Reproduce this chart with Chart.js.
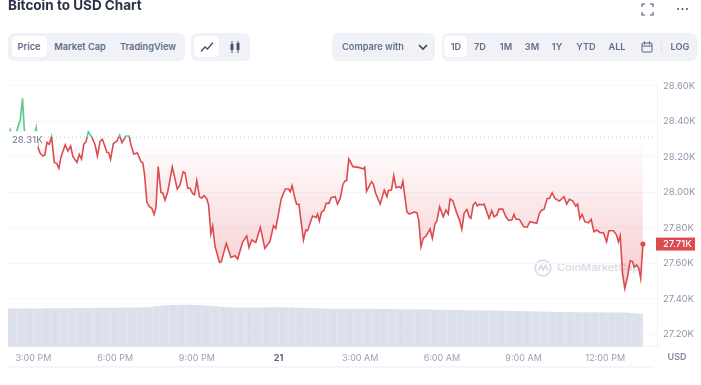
<!DOCTYPE html>
<html>
<head>
<meta charset="utf-8">
<title>Bitcoin to USD Chart</title>
<script src="https://cdn.jsdelivr.net/npm/chart.js@4"></script>
<style>
    html, body { margin: 0; padding: 0; background: #fff; overflow: hidden; }
    body { width: 701px; height: 385px; position: relative; font-family: Inter, sans-serif; }
    #chartBox { position: absolute; left: 0; top: 0; width: 701px; height: 385px; }
    .title { position: absolute; left: 8px; top: -3px; font-size: 13.5px; font-weight: 700; line-height: 17px; color: #2b3245; white-space: nowrap; }
    .group { position: absolute; top: 33px; height: 28px; background: #f0f2f7; border-radius: 6px; }
    .active { position: absolute; top: 36px; height: 21px; background: #fff; border-radius: 5px; }
    .btn { position: absolute; top: 47px; transform: translate(-50%, -50%); font-size: 9.2px; font-weight: 600; color: #626e86; white-space: nowrap; line-height: 12px; }
    svg.icon { position: absolute; }
    .mark { position: absolute; left: 557px; top: 259px; font-size: 11px; font-weight: 500; color: #d7dbe7; white-space: nowrap; line-height: 16px; }
    .usd { position: absolute; left: 677px; top: 357px; transform: translate(-50%, -50%); font-size: 9px; font-weight: 600; color: #7f879b; line-height: 12px; }
    .band { position: absolute; left: 9px; top: 366px; width: 645px; height: 2px; background: #f3f6fd; }
</style>
</head>
<body>
<svg class="icon" style="left:534px;top:259px" width="18" height="18" viewBox="0 0 18 18" fill="none" stroke="#d7dbe7" stroke-width="1.7">
    <circle cx="9" cy="9" r="7.8"/><path d="M4.5 11.5 7 6.5l2.2 4.5L11.5 6.5l2.3 5"/>
</svg>
<div class="mark">CoinMarketCap</div>

<div id="chartBox"><canvas id="btcChart" width="701" height="385"></canvas></div>

<div class="title">Bitcoin to USD Chart</div>

<svg class="icon" style="left:641px;top:3px" width="13" height="13" viewBox="0 0 13 13" fill="none" stroke="#4a5468" stroke-width="1.1">
    <path d="M1 4V1h3M9 1h3v3M12 9v3H9M4 12H1V9"/>
</svg>
<svg class="icon" style="left:676px;top:7px" width="13" height="4" viewBox="0 0 13 4" fill="#4a5468">
    <circle cx="2" cy="2" r="1"/><circle cx="6.5" cy="2" r="1"/><circle cx="11" cy="2" r="1"/>
</svg>

<div class="group" style="left:8px;width:177px"></div>
<div class="active" style="left:12px;width:35px"></div>
<div class="btn" style="left:29px">Price</div>
<div class="btn" style="left:80px">Market Cap</div>
<div class="btn" style="left:148px">TradingView</div>

<div class="group" style="left:191px;width:59px"></div>
<div class="active" style="left:194px;width:25px"></div>
<svg class="icon" style="left:200px;top:41px" width="14" height="12" viewBox="0 0 14 12" fill="none" stroke="#4a5468" stroke-width="1.3">
    <path d="M1 10.5 5 6l2.5 2L13 1.5"/>
</svg>
<svg class="icon" style="left:229px;top:41px" width="12" height="12" viewBox="0 0 12 12" fill="#4a5468" stroke="#4a5468">
    <path d="M3 0v12M9 0v12" stroke-width="1"/><rect x="1.5" y="3" width="3" height="6" stroke="none"/><rect x="7.5" y="2" width="3" height="7" stroke="none"/>
</svg>

<div class="group" style="left:332px;width:103px"></div>
<div class="btn" style="left:373px">Compare with</div>
<svg class="icon" style="left:418px;top:44px" width="10" height="7" viewBox="0 0 10 7" fill="none" stroke="#3b4558" stroke-width="1.6">
    <path d="M1 1l4 4 4-4"/>
</svg>

<div class="group" style="left:442px;width:255px"></div>
<div class="active" style="left:444px;width:23px"></div>
<div class="btn" style="left:456px">1D</div>
<div class="btn" style="left:480px">7D</div>
<div class="btn" style="left:506px">1M</div>
<div class="btn" style="left:532px">3M</div>
<div class="btn" style="left:557px">1Y</div>
<div class="btn" style="left:586px">YTD</div>
<div class="btn" style="left:617px">ALL</div>
<svg class="icon" style="left:641px;top:41px" width="12" height="12" viewBox="0 0 12 12" fill="none" stroke="#5a657b" stroke-width="1">
    <rect x="1" y="2" width="10" height="9" rx="1"/><path d="M1 5h10M3.5 0.5v3M8.5 0.5v3"/>
</svg>
<div style="position:absolute;left:661px;top:42px;width:1px;height:10px;background:#dfe2ea"></div>
<div class="btn" style="left:680px">LOG</div>

<div class="usd">USD</div>
<div class="band"></div>

<script>
// 시간축: 전날 00:00 기준 분 단위
const xTicks = [900, 1080, 1260, 1440, 1620, 1800, 1980, 2160];
const xLabels = ['3:00 PM', '6:00 PM', '9:00 PM', '21', '3:00 AM', '6:00 AM', '9:00 AM', '12:00 PM'];

const yTicks = [27200, 27400, 27600, 27800, 28000, 28200, 28400, 28600];
const yLabels = ['27.20K', '27.40K', '27.60K', '27.80K', '28.00K', '28.20K', '28.40K', '28.60K'];

const basePrice = 28310;
const baseLabel = '28.31K';
const lastLabel = '27.71K';

const priceTimes = [
    846, 849, 853, 859, 865, 871, 876, 880, 885, 896, 902, 906, 910, 915, 921, 925, 930, 935, 940, 946,
    951, 956, 961, 970, 976, 982, 987, 996, 1001, 1006, 1011, 1016, 1021, 1029, 1036, 1041, 1047, 1052, 1062, 1066,
    1070, 1076, 1084, 1090, 1095, 1104, 1111, 1115, 1121, 1129, 1137, 1141, 1145, 1150, 1156, 1161, 1166, 1170, 1175, 1181,
    1185, 1190, 1196, 1206, 1217, 1223, 1230, 1234, 1240, 1245, 1251, 1255, 1260, 1266, 1271, 1276, 1282, 1286, 1291, 1295,
    1300, 1310, 1314, 1325, 1335, 1344, 1350, 1361, 1370, 1375, 1381, 1390, 1400, 1410, 1421, 1429, 1434, 1446, 1455, 1462,
    1466, 1470, 1477, 1480, 1485, 1495, 1500, 1504, 1515, 1523, 1526, 1530, 1535, 1540, 1545, 1551, 1556, 1565, 1570, 1576,
    1582, 1587, 1590, 1595, 1604, 1616, 1627, 1630, 1634, 1645, 1649, 1654, 1664, 1673, 1679, 1682, 1689, 1694, 1699, 1706,
    1710, 1714, 1723, 1728, 1739, 1745, 1749, 1754, 1759, 1765, 1774, 1779, 1785, 1789, 1795, 1803, 1809, 1814, 1818, 1824,
    1833, 1839, 1844, 1849, 1855, 1861, 1864, 1869, 1874, 1878, 1883, 1888, 1893, 1904, 1910, 1915, 1921, 1926, 1934, 1941,
    1947, 1954, 1959, 1963, 1971, 1980, 1988, 1994, 2009, 2015, 2020, 2025, 2032, 2037, 2043, 2049, 2059, 2069, 2075, 2081,
    2088, 2095, 2099, 2104, 2109, 2115, 2123, 2129, 2135, 2141, 2149, 2156, 2163, 2168, 2178, 2185, 2189, 2193, 2198, 2203,
    2209, 2215, 2220, 2224, 2229, 2234, 2238, 2243
];

const prices = [
    28322, 28352, 28322, 28303, 28360, 28407, 28529, 28350, 28303, 28294, 28322, 28364, 28253, 28219, 28204, 28210, 28281, 28270, 28313, 28168,
    28163, 28134, 28200, 28266, 28232, 28260, 28200, 28168, 28213, 28187, 28270, 28285, 28341, 28309, 28266, 28204, 28288, 28298, 28225, 28223,
    28185, 28273, 28288, 28322, 28279, 28317, 28317, 28266, 28215, 28221, 28172, 28166, 28097, 27943, 27917, 27909, 27875, 27913, 28144, 27999,
    27996, 27956, 28003, 28142, 28018, 28041, 28116, 28110, 28022, 28022, 27992, 27986, 28065, 27973, 27967, 27981, 27962, 27928, 27765, 27811,
    27697, 27605, 27609, 27712, 27633, 27642, 27624, 27719, 27753, 27689, 27731, 27717, 27802, 27684, 27721, 27811, 27796, 27962, 28018, 28018,
    28003, 28037, 27956, 27933, 27932, 27731, 27787, 27783, 27866, 27858, 27877, 27838, 27890, 27896, 27937, 27937, 27969, 27975, 27933, 27965,
    28044, 28065, 28065, 28187, 28144, 28140, 28132, 28140, 28005, 28059, 28046, 27994, 27933, 28012, 27975, 28009, 28014, 28093, 28025, 28031,
    28022, 28061, 27890, 27877, 27888, 27885, 27843, 27693, 27740, 27753, 27793, 27740, 27824, 27838, 27918, 27862, 27900, 27877, 27962, 27952,
    27881, 27843, 27791, 27881, 27903, 27858, 27853, 27928, 27943, 27922, 27933, 27928, 27933, 27853, 27896, 27862, 27871, 27905, 27905, 27862,
    27841, 27843, 27875, 27849, 27847, 27806, 27804, 27834, 27825, 27881, 27900, 27903, 27965, 27965, 27997, 27965, 27950, 27975, 27933, 27960,
    27952, 27922, 27933, 27851, 27875, 27834, 27828, 27847, 27778, 27787, 27772, 27772, 27721, 27783, 27783, 27759, 27721, 27755, 27543, 27458,
    27524, 27614, 27609, 27577, 27590, 27571, 27515, 27708
];

// 거래량 (5분 간격, 단위: 십억)
const volumeStart = 845;
const volumes = [
    15.10, 15.10, 15.11, 15.12, 15.12, 15.13, 15.14, 15.14, 15.15, 15.15, 15.16, 15.17, 15.17, 15.18, 15.18, 15.19, 15.20, 15.20, 15.20, 15.21,
    15.22, 15.23, 15.24, 15.25, 15.26, 15.27, 15.28, 15.29, 15.30, 15.31, 15.32, 15.33, 15.34, 15.35, 15.36, 15.37, 15.38, 15.39, 15.40, 15.40,
    15.41, 15.42, 15.43, 15.44, 15.45, 15.46, 15.47, 15.48, 15.49, 15.50, 15.51, 15.52, 15.53, 15.54, 15.55, 15.56, 15.57, 15.58, 15.59, 15.60,
    15.62, 15.66, 15.72, 15.80, 15.90, 16.00, 16.10, 16.20, 16.30, 16.40, 16.48, 16.52, 16.55, 16.56, 16.58, 16.58, 16.60, 16.60, 16.60, 16.60,
    16.60, 16.60, 16.58, 16.56, 16.54, 16.50, 16.44, 16.38, 16.30, 16.24, 16.16, 16.08, 16.00, 15.92, 15.84, 15.76, 15.68, 15.62, 15.56, 15.52,
    15.50, 15.50, 15.51, 15.52, 15.52, 15.53, 15.54, 15.54, 15.55, 15.56, 15.56, 15.57, 15.58, 15.58, 15.59, 15.60, 15.60, 15.60, 15.60, 15.60,
    15.60, 15.59, 15.58, 15.56, 15.54, 15.52, 15.50, 15.48, 15.46, 15.44, 15.42, 15.40, 15.38, 15.34, 15.30, 15.26, 15.22, 15.18, 15.14, 15.10,
    15.10, 15.10, 15.09, 15.09, 15.08, 15.08, 15.07, 15.07, 15.06, 15.06, 15.05, 15.05, 15.04, 15.04, 15.03, 15.03, 15.02, 15.02, 15.01, 15.00,
    15.00, 14.99, 14.98, 14.97, 14.96, 14.95, 14.94, 14.93, 14.92, 14.91, 14.90, 14.89, 14.88, 14.87, 14.86, 14.85, 14.84, 14.82, 14.81, 14.80,
    14.78, 14.76, 14.75, 14.74, 14.72, 14.71, 14.70, 14.68, 14.67, 14.66, 14.64, 14.63, 14.62, 14.60, 14.59, 14.58, 14.56, 14.54, 14.52, 14.50,
    14.48, 14.47, 14.46, 14.45, 14.44, 14.43, 14.42, 14.41, 14.40, 14.39, 14.38, 14.37, 14.36, 14.34, 14.33, 14.32, 14.30, 14.28, 14.26, 14.24,
    14.22, 14.20, 14.18, 14.16, 14.14, 14.12, 14.10, 14.08, 14.06, 14.04, 14.02, 14.00, 13.98, 13.96, 13.94, 13.92, 13.88, 13.85, 13.82, 13.80,
    13.78, 13.77, 13.76, 13.75, 13.74, 13.73, 13.72, 13.71, 13.70, 13.69, 13.68, 13.67, 13.66, 13.65, 13.64, 13.63, 13.62, 13.61, 13.60, 13.60,
    13.60, 13.60, 13.59, 13.59, 13.58, 13.58, 13.57, 13.57, 13.56, 13.56, 13.55, 13.54, 13.50, 13.45, 13.38, 13.30, 13.22, 13.14, 13.06, 13.00
];

// 기준가 라벨, 현재가 라벨
const priceLabels = {
    id: 'priceLabels',
    afterDatasetsDraw(chart) {
        const ctx = chart.ctx;
        const y = chart.scales.y;
        const x = chart.scales.x;
        const baseY = y.getPixelForValue(basePrice);
        const lastY = y.getPixelForValue(prices[prices.length - 1]);

        ctx.save();
        ctx.font = '500 9.5px Inter, sans-serif';
        ctx.textBaseline = 'middle';
        ctx.textAlign = 'left';

        ctx.fillStyle = '#fff';
        ctx.fillRect(8, baseY - 6, 30, 16);
        ctx.fillStyle = '#858ca2';
        ctx.fillText(baseLabel, 12, baseY + 3);

        ctx.fillStyle = '#dc4b50';
        ctx.fillRect(x.right - 1, lastY - 6.5, 39, 13);
        ctx.fillStyle = '#fff';
        ctx.fillText(lastLabel, x.right + 6, lastY + 0.5);
        ctx.restore();
    }
};

const btcChart = new Chart(document.getElementById('btcChart').getContext('2d'), {
    data: {
        datasets: [
            {
                type: 'line',
                label: 'Base',
                yAxisID: 'y',
                data: [{ x: 844, y: basePrice }, { x: 2270, y: basePrice }],
                borderColor: '#c3c7d2',
                borderWidth: 1,
                borderDash: [1, 3],
                pointRadius: 0,
                fill: false,
                order: 2
            },
            {
                type: 'line',
                label: 'Price',
                yAxisID: 'y',
                data: priceTimes.map((t, i) => ({ x: t, y: prices[i] })),
                borderColor: '#dc4b50',
                borderWidth: 1.6,
                tension: 0,
                pointRadius: ctx => (ctx.dataIndex === prices.length - 1 ? 2.6 : 0),
                pointBackgroundColor: '#dc4b50',
                pointBorderColor: '#dc4b50',
                pointBorderWidth: 0,
                order: 1
            },
            {
                type: 'bar',
                label: 'Volume',
                yAxisID: 'yVol',
                data: volumes.map((v, i) => ({ x: volumeStart + i * 5, y: v })),
                backgroundColor: '#dadfeb',
                barThickness: 1.7,
                order: 3
            }
        ]
    },
    options: {
        responsive: false,
        animation: false,
        events: [],
        layout: { padding: { left: 8, top: 85.7, right: 0, bottom: 18.3 } },
        plugins: { legend: { display: false }, tooltip: { enabled: false } },
        scales: {
            x: {
                type: 'linear',
                offset: false,
                min: 844,
                max: 2274,
                afterFit: scale => { scale.height = 20; },
                afterBuildTicks: scale => { scale.ticks = xTicks.map(v => ({ value: v })); },
                grid: { display: false, drawTicks: false, offset: false },
                border: { display: true, color: '#f3f4f7' },
                ticks: {
                    padding: 6,
                    autoSkip: false,
                    maxRotation: 0,
                    color: ctx => (ctx.tick && ctx.tick.value === 1440 ? '#5d6679' : '#9aa1b3'),
                    font: ctx => ({
                        family: 'Inter, sans-serif',
                        size: 9,
                        weight: ctx.tick && ctx.tick.value === 1440 ? '700' : '400'
                    }),
                    callback: value => xLabels[xTicks.indexOf(value)]
                }
            },
            y: {
                position: 'right',
                min: 27130,
                max: 28600,
                afterFit: scale => { scale.width = 44; },
                afterBuildTicks: scale => { scale.ticks = yTicks.map(v => ({ value: v })); },
                grid: { color: '#f6f7f9', drawTicks: false },
                border: { display: true, color: '#f0f1f5' },
                ticks: {
                    padding: 6,
                    color: '#8f96a9',
                    font: { family: 'Inter, sans-serif', size: 9.5 },
                    callback: value => yLabels[yTicks.indexOf(value)]
                }
            },
            yVol: {
                display: false,
                min: 0,
                max: 104.4
            }
        }
    },
    plugins: [priceLabels]
});

// 기준가 위/아래 색상 그라디언트는 스케일이 잡힌 뒤에 적용
function applyGradients(chart) {
    const ctx = chart.ctx;
    const y = chart.scales.y;
    const baseY = y.getPixelForValue(basePrice);
    const stop = (baseY - chart.chartArea.top) / (chart.chartArea.bottom - chart.chartArea.top);

    const stroke = ctx.createLinearGradient(0, chart.chartArea.top, 0, chart.chartArea.bottom);
    stroke.addColorStop(0, '#5cc98f');
    stroke.addColorStop(stop, '#5cc98f');
    stroke.addColorStop(stop, '#dc4b50');
    stroke.addColorStop(1, '#dc4b50');

    const below = ctx.createLinearGradient(0, baseY, 0, 300);
    below.addColorStop(0, 'rgba(222, 70, 80, 0)');
    below.addColorStop(1, 'rgba(222, 70, 80, 0.3)');

    const above = ctx.createLinearGradient(0, 95, 0, baseY);
    above.addColorStop(0, 'rgba(92, 201, 143, 0.25)');
    above.addColorStop(1, 'rgba(92, 201, 143, 0.02)');

    const price = chart.data.datasets[1];
    price.borderColor = stroke;
    price.fill = { target: { value: basePrice }, above: above, below: below };
    chart.update('none');
}

applyGradients(btcChart);
</script>
</body>
</html>
